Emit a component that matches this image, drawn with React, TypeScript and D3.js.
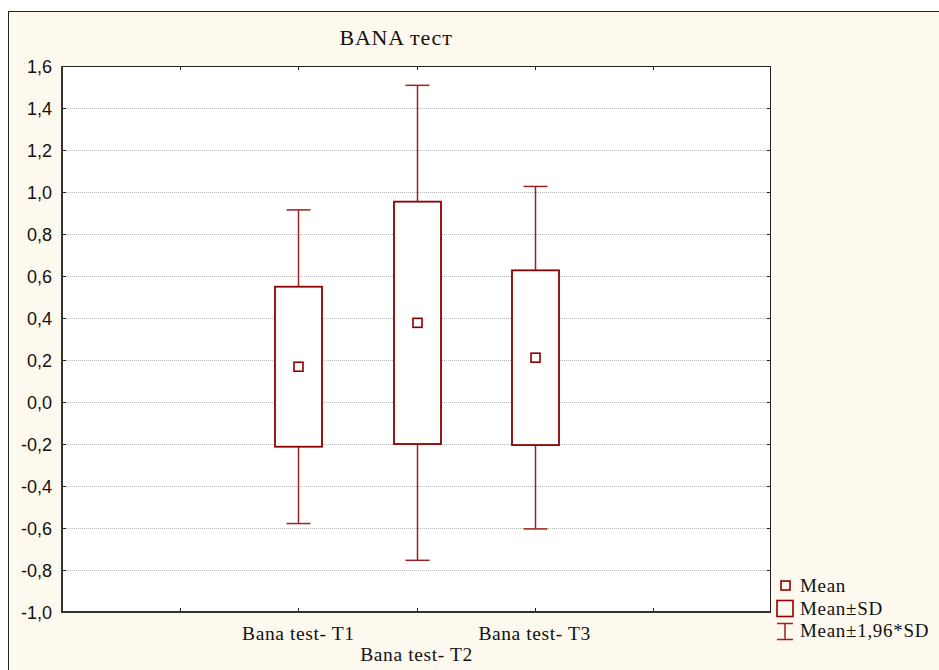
import React from "react";
import * as d3 from "d3";

// Per-group summary statistics
const groups = ["Bana test- T1", "Bana test- T2", "Bana test- T3"];
const means = [0.168, 0.377, 0.211];
const sds = [0.381, 0.577, 0.416];
const yTicks = [-1.0, -0.8, -0.6, -0.4, -0.2, 0.0, 0.2, 0.4, 0.6, 0.8, 1.0, 1.2, 1.4, 1.6];
const legendItems = ["Mean", "Mean±SD", "Mean±1,96*SD"];

const W = 939;
const H = 670;
const plot = { left: 62, right: 771, top: 66, bottom: 612 };
const RED = "#8b0000";
const WHISK = "#9a2222";
const SERIF = "'Liberation Serif', 'DejaVu Serif', serif";
const SANS = "'Liberation Sans', Arial, sans-serif";

export default function App() {
  const x = d3.scaleLinear().domain([0, 6]).range([plot.left, plot.right]);
  const y = d3.scaleLinear().domain([-1, 1.6]).range([plot.bottom, plot.top]);
  const catPos = groups.map((_, i) => i + 2);
  const xTicks = d3.range(1, 6);
  const fmt = (v: number) => d3.format(".1f")(v).replace(".", ",").replace("−", "-");

  const boxW = 47;
  const capW = 24;
  const meanS = 9;

  return (
    <svg
      width={W}
      height={H}
      style={{ position: "absolute", left: 0, top: 0, background: "#ffffff" }}
    >
      {/* outer frame */}
      <rect x={8.5} y={11.5} width={W + 20} height={H + 20} fill="#fef9ee" stroke="#222" strokeWidth={1} />

      {/* title */}
      <text
        x={396}
        y={45}
        textAnchor="middle"
        fontFamily={SERIF}
        fontSize={22}
        letterSpacing={0.8}
        fill="#111"
      >
        BANA тест
      </text>

      {/* plot area */}
      <rect
        x={plot.left}
        y={plot.top}
        width={plot.right - plot.left}
        height={plot.bottom - plot.top}
        fill="#ffffff"
      />

      {/* grid */}
      {yTicks.slice(1, -1).map((t) => (
        <line
          key={"g" + t}
          x1={plot.left}
          x2={plot.right}
          y1={Math.round(y(t)) + 0.5}
          y2={Math.round(y(t)) + 0.5}
          stroke="#b8b8b8"
          strokeWidth={1}
          strokeDasharray="1,1"
        />
      ))}

      {/* y ticks and labels */}
      {yTicks.map((t) => {
        const yy = Math.round(y(t)) + 0.5;
        return (
          <g key={"y" + t}>
            <line x1={plot.left} x2={plot.left + 4} y1={yy} y2={yy} stroke="#222" />
            <line x1={plot.right - 4} x2={plot.right} y1={yy} y2={yy} stroke="#222" />
            <text
              x={52}
              y={yy}
              dy="0.36em"
              textAnchor="end"
              fontFamily={SANS}
              fontSize={18}
              fill="#111"
            >
              {fmt(t)}
            </text>
          </g>
        );
      })}

      {/* x ticks */}
      {xTicks.map((t) => {
        const xx = Math.round(x(t)) + 0.5;
        return (
          <g key={"x" + t}>
            <line x1={xx} x2={xx} y1={plot.top} y2={plot.top + 4} stroke="#222" />
            <line x1={xx} x2={xx} y1={plot.bottom - 4} y2={plot.bottom} stroke="#222" />
          </g>
        );
      })}

      {/* plot border */}
      <rect
        x={plot.left + 0.5}
        y={plot.top + 0.5}
        width={plot.right - plot.left - 1}
        height={plot.bottom - plot.top - 1}
        fill="none"
        stroke="#222"
        strokeWidth={1}
      />
      <line x1={plot.left} x2={plot.left} y1={plot.top} y2={plot.bottom + 1} stroke="#333" strokeWidth={2} />
      <line x1={plot.left - 1} x2={plot.right} y1={plot.bottom} y2={plot.bottom} stroke="#333" strokeWidth={2} />

      {/* boxes and whiskers */}
      {groups.map((g, i) => {
        const cx = Math.round(x(catPos[i])) + 0.5;
        const m = means[i];
        const s = sds[i];
        const wHi = y(m + 1.96 * s);
        const wLo = y(m - 1.96 * s);
        const bHi = y(m + s);
        const bLo = y(m - s);
        return (
          <g key={g}>
            <line x1={cx} x2={cx} y1={wHi} y2={bHi} stroke={WHISK} strokeWidth={1.5} />
            <line x1={cx} x2={cx} y1={bLo} y2={wLo} stroke={WHISK} strokeWidth={1.5} />
            <line x1={cx - capW / 2} x2={cx + capW / 2} y1={wHi} y2={wHi} stroke={WHISK} strokeWidth={1.5} />
            <line x1={cx - capW / 2} x2={cx + capW / 2} y1={wLo} y2={wLo} stroke={WHISK} strokeWidth={1.5} />
            <rect
              x={cx - boxW / 2}
              y={bHi}
              width={boxW}
              height={bLo - bHi}
              fill="#ffffff"
              stroke={RED}
              strokeWidth={1.8}
            />
            <rect
              x={cx - meanS / 2}
              y={y(m) - meanS / 2}
              width={meanS}
              height={meanS}
              fill="#ffffff"
              stroke={RED}
              strokeWidth={1.6}
            />
          </g>
        );
      })}

      {/* category labels, staggered */}
      {groups.map((g, i) => (
        <text
          key={"l" + g}
          x={x(catPos[i])}
          y={i % 2 === 0 ? 640 : 661}
          textAnchor="middle"
          fontFamily={SERIF}
          fontSize={19.5}
          letterSpacing={0.6}
          fill="#111"
        >
          {g}
        </text>
      ))}

      {/* legend */}
      <g>
        <rect x={781} y={581} width={9} height={9} fill="none" stroke={RED} strokeWidth={1.6} />
        <rect x={777} y={600.5} width={16} height={16} fill="none" stroke={RED} strokeWidth={1.6} />
        <line x1={785} x2={785} y1={623.5} y2={639.5} stroke={WHISK} strokeWidth={1.5} />
        <line x1={777} x2={793} y1={623.5} y2={623.5} stroke={WHISK} strokeWidth={1.5} />
        <line x1={777} x2={793} y1={639.5} y2={639.5} stroke={WHISK} strokeWidth={1.5} />
        {legendItems.map((t, i) => (
          <text
            key={t}
            x={800}
            y={592 + i * 22.5}
            fontFamily={SERIF}
            fontSize={19}
            letterSpacing={0.7}
            fill="#111"
          >
            {t}
          </text>
        ))}
      </g>
    </svg>
  );
}
